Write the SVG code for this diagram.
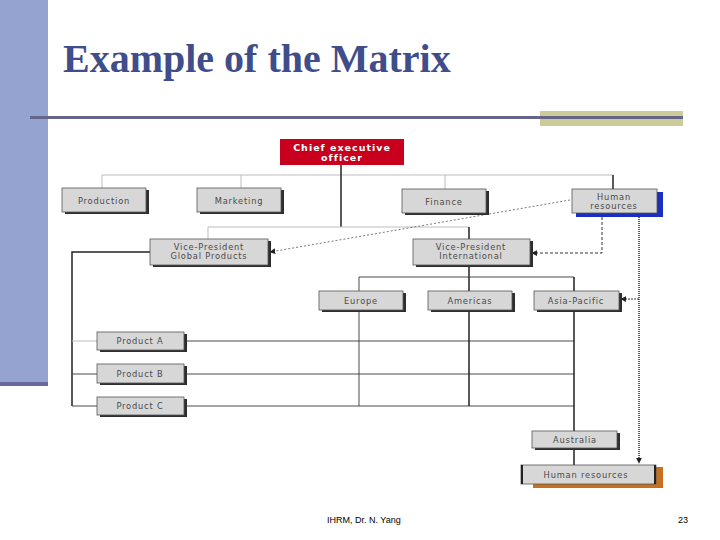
<svg xmlns="http://www.w3.org/2000/svg" width="720" height="540" viewBox="0 0 720 540">
<defs>
<style>
.box{fill:#d7d7d7;stroke:#555;stroke-width:0.8}
.sh{fill:#2e2e2e}
.lbl{font-family:"DejaVu Sans",Verdana,sans-serif;font-size:8.3px;fill:#4a4a4a;text-anchor:middle;letter-spacing:0.8px}
.ln{fill:none;stroke:#4a4a4a;stroke-width:1}
.lt{fill:none;stroke:#bdbdbd;stroke-width:1}
.dk{fill:none;stroke:#222;stroke-width:1.5}
</style>
<marker id="ah" viewBox="0 0 8 8" refX="7" refY="4" markerWidth="6" markerHeight="6" orient="auto" markerUnits="userSpaceOnUse">
<path d="M0,0 L8,4 L0,8 Z" fill="#222"/>
</marker>
</defs>
<rect width="720" height="540" fill="#ffffff"/>
<rect x="0" y="0" width="48" height="382" fill="#94a3cf"/>
<rect x="0" y="382" width="48" height="4" fill="#6b6b9a"/>
<text x="63" y="72" font-family="'Liberation Serif','Times New Roman',serif" font-weight="bold" font-size="40" fill="#3f4d8a">Example of the Matrix</text>
<rect x="540" y="111" width="143" height="15" fill="#cccc99"/>
<rect x="30" y="116" width="653" height="3" fill="#65658a"/>

<g id="connectors">
<path class="lt" d="M102,175 H613"/>
<path class="lt" d="M102,175 V188 M241,175 V188 M445,175 V189"/>
<path class="dk" d="M613,175 V189"/>
<path class="dk" d="M341,165 V227"/>
<path class="lt" d="M208,227 H469 M208,227 V239"/>
<path class="dk" d="M469,227 V239"/>
<path d="M570,200 L270,252" fill="none" stroke="#555" stroke-width="0.8" stroke-dasharray="2,2" marker-end="url(#ah)"/>
<path d="M602,217 V253 H532" fill="none" stroke="#333" stroke-width="1" stroke-dasharray="3,2" marker-end="url(#ah)"/>
<path d="M639,217 V463" fill="none" stroke="#333" stroke-width="1.6" stroke-dasharray="1,1" marker-end="url(#ah)"/>
<path d="M639,299 H621" fill="none" stroke="#333" stroke-width="1" stroke-dasharray="2,1" marker-end="url(#ah)"/>
<path class="dk" d="M150,252 H72 V406"/>
<path class="lt" d="M72,341 H97"/>
<path class="ln" d="M72,374 H97 M72,406 H97"/>
<path class="ln" d="M184,341 H574 M184,374 H574 M184,406 H574"/>
<path class="dk" d="M469,265 V277"/>
<path class="ln" d="M359,277 H574" stroke="#999"/>
<path class="ln" d="M359,277 V406"/>
<path class="dk" d="M469,277 V406" stroke-width="1"/>
<path class="dk" d="M574,277 V431 M574,448 V465"/>
</g>

<g id="ceo">
<rect x="280" y="139" width="124" height="26" fill="#c8001e"/>
<text x="342" y="151" font-family="'DejaVu Sans',Verdana,sans-serif" font-weight="bold" font-size="9.5" fill="#ffffff" text-anchor="middle" letter-spacing="1">Chief executive</text>
<text x="342" y="161" font-family="'DejaVu Sans',Verdana,sans-serif" font-weight="bold" font-size="9.5" fill="#ffffff" text-anchor="middle" letter-spacing="1">officer</text>
</g>

<g id="production">
<rect class="sh" x="65" y="190" width="84" height="24"/>
<rect class="box" x="62" y="188" width="84" height="24"/>
<text class="lbl" x="104" y="204">Production</text>
</g>
<g id="marketing">
<rect class="sh" x="200" y="190" width="84" height="24"/>
<rect class="box" x="197" y="188" width="84" height="24"/>
<text class="lbl" x="239" y="204">Marketing</text>
</g>
<g id="finance">
<rect class="sh" x="405" y="191" width="84" height="24"/>
<rect class="box" x="402" y="189" width="84" height="24"/>
<text class="lbl" x="444" y="205">Finance</text>
</g>
<g id="hr-top">
<rect x="576" y="192" width="87" height="25" fill="#1a2fbf"/>
<rect class="box" x="572" y="189" width="85" height="24"/>
<text class="lbl" x="614" y="200">Human</text>
<text class="lbl" x="614" y="209">resources</text>
</g>
<g id="vp-global">
<rect class="sh" x="153" y="241" width="118" height="26"/>
<rect class="box" x="150" y="239" width="118" height="26"/>
<text class="lbl" x="209" y="250">Vice-President</text>
<text class="lbl" x="209" y="259">Global Products</text>
</g>
<g id="vp-intl">
<rect class="sh" x="416" y="241" width="117" height="26"/>
<rect class="box" x="413" y="239" width="117" height="26"/>
<text class="lbl" x="471" y="250">Vice-President</text>
<text class="lbl" x="471" y="259">International</text>
</g>
<g id="europe">
<rect class="sh" x="322" y="293" width="84" height="19"/>
<rect class="box" x="319" y="291" width="84" height="19"/>
<text class="lbl" x="361" y="304">Europe</text>
</g>
<g id="americas">
<rect class="sh" x="431" y="293" width="84" height="19"/>
<rect class="box" x="428" y="291" width="84" height="19"/>
<text class="lbl" x="470" y="304">Americas</text>
</g>
<g id="asia-pacific">
<rect class="sh" x="537" y="293" width="85" height="19"/>
<rect class="box" x="534" y="291" width="85" height="19"/>
<text class="lbl" x="576" y="304">Asia-Pacific</text>
</g>
<g id="product-a">
<rect class="sh" x="100" y="334" width="87" height="18"/>
<rect class="box" x="97" y="332" width="87" height="18"/>
<text class="lbl" x="140" y="344">Product A</text>
</g>
<g id="product-b">
<rect class="sh" x="100" y="366" width="87" height="19"/>
<rect class="box" x="97" y="364" width="87" height="19"/>
<text class="lbl" x="140" y="377">Product B</text>
</g>
<g id="product-c">
<rect class="sh" x="100" y="399" width="87" height="18"/>
<rect class="box" x="97" y="397" width="87" height="18"/>
<text class="lbl" x="140" y="409">Product C</text>
</g>
<g id="australia">
<rect class="sh" x="535" y="433" width="85" height="17"/>
<rect class="box" x="532" y="431" width="85" height="17"/>
<text class="lbl" x="575" y="443">Australia</text>
</g>
<g id="hr-bottom">
<rect x="533" y="467" width="130" height="21" fill="#c87020"/>
<rect class="box" x="521" y="465" width="135" height="19"/>
<rect x="521" y="465" width="2" height="19" fill="#222"/>
<rect x="654" y="465" width="2" height="19" fill="#222"/>
<text class="lbl" x="586" y="478">Human resources</text>
</g>

<text x="327" y="523" font-family="'Liberation Sans',Arial,sans-serif" font-size="9" fill="#000">IHRM, Dr. N. Yang</text>
<text x="688" y="523" font-family="'Liberation Sans',Arial,sans-serif" font-size="9" fill="#000" text-anchor="end">23</text>
</svg>
